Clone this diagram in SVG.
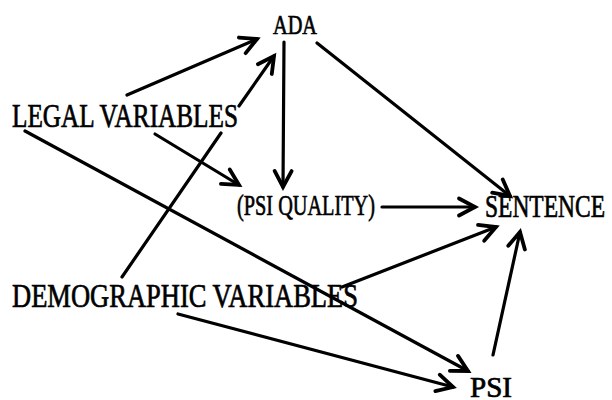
<svg xmlns="http://www.w3.org/2000/svg" width="612" height="400" viewBox="0 0 612 400">
<style>
.t{font-family:"Liberation Serif","Times New Roman",serif;fill:#000;stroke:#000;stroke-width:0.7}
.c{stroke:#000;stroke-width:3.2;fill:none;stroke-linecap:round}
</style>
<defs>
<marker id="ah" markerUnits="userSpaceOnUse" markerWidth="30" markerHeight="30" viewBox="-20 -15 30 30" refX="0" refY="0" orient="auto">
<path d="M-16 -8.5 L0 0 L-16 8.5" fill="none" stroke="#000" stroke-width="3.8" stroke-linecap="round" stroke-linejoin="miter"/>
</marker>
</defs>
<rect width="612" height="400" fill="#fff"/>
<g id="connectors">
<line class="c" x1="127" y1="95" x2="257" y2="39" marker-end="url(#ah)"/>
<line class="c" x1="122" y1="277" x2="221" y2="133"/>
<line class="c" x1="239" y1="106" x2="274" y2="56" marker-end="url(#ah)"/>
<line class="c" x1="155" y1="134" x2="239" y2="185" marker-end="url(#ah)"/>
<line class="c" x1="25" y1="131" x2="468" y2="371" marker-end="url(#ah)"/>
<line class="c" x1="284" y1="42" x2="283" y2="187" marker-end="url(#ah)"/>
<line class="c" x1="317" y1="43" x2="510" y2="196" marker-end="url(#ah)" stroke-width="2.6"/>
<line class="c" x1="382" y1="207" x2="475" y2="207" marker-end="url(#ah)"/>
<line class="c" x1="342" y1="287" x2="496" y2="227" marker-end="url(#ah)"/>
<line class="c" x1="178" y1="314" x2="453" y2="387" marker-end="url(#ah)"/>
<line class="c" x1="493" y1="355" x2="520" y2="232" marker-end="url(#ah)"/>
</g>
<g id="ada"><text class="t" x="273" y="34" font-size="28" textLength="44" lengthAdjust="spacingAndGlyphs">ADA</text></g>
<g id="legal"><text class="t" x="12" y="127" font-size="33" textLength="226" lengthAdjust="spacingAndGlyphs">LEGAL VARIABLES</text></g>
<g id="psiquality"><text class="t" x="237" y="215" font-size="30" textLength="138" lengthAdjust="spacingAndGlyphs">(PSI QUALITY)</text></g>
<g id="sentence"><text class="t" x="485" y="217" font-size="32" textLength="120" lengthAdjust="spacingAndGlyphs">SENTENCE</text></g>
<g id="demographic"><text class="t" x="12" y="307" font-size="33" textLength="346" lengthAdjust="spacingAndGlyphs">DEMOGRAPHIC VARIABLES</text></g>
<g id="psi"><text class="t" x="470" y="397" font-size="29" textLength="42" lengthAdjust="spacingAndGlyphs">PSI</text></g>
</svg>
